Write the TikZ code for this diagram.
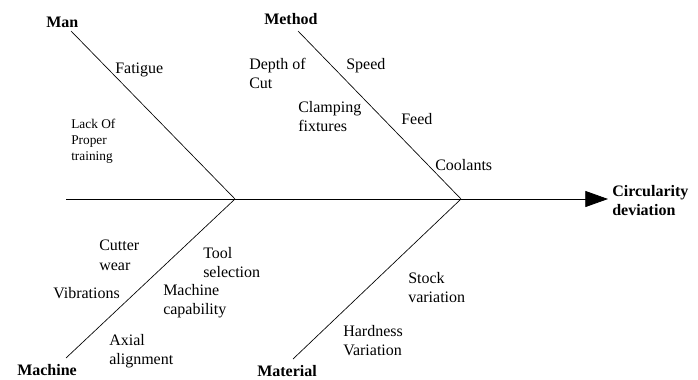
\documentclass[tikz,border=0pt]{standalone}
\usepackage{fontspec}
\setmainfont{Liberation Serif}
\usetikzlibrary{arrows.meta}

\tikzset{
  bone/.style={black,line width=0.5pt},
  cause/.style={font=\fontsize{12}{14.4}\selectfont,inner sep=0,anchor=north west,align=left},
  group/.style={font=\fontsize{12}{14.4}\selectfont\bfseries,inner sep=0,anchor=north west,align=left}
}

\begin{document}
\begin{tikzpicture}[x=0.75pt,y=-0.75pt]
  \useasboundingbox (0,0) rectangle (698,379);

  % spine and head
  \coordinate (tail) at (66,199);
  \coordinate (joinA) at (235,199);
  \coordinate (joinB) at (461,199);
  \coordinate (tip) at (608,199);
  \node[group] (effect) at (612,185) {Circularity\\deviation};
  \draw[black,line width=0.6pt,-{Triangle[length=17pt,width=12pt]}] (tail) -- (tip);

  % bones
  \coordinate (manend) at (71,31);
  \coordinate (methodend) at (298,31);
  \coordinate (machineend) at (66,358);
  \coordinate (materialend) at (293,359);
  \draw[bone] (manend) -- (joinA);
  \draw[bone] (machineend) -- (joinA);
  \draw[bone] (methodend) -- (joinB);
  \draw[bone] (materialend) -- (joinB);

  % group labels
  \foreach \n/\x/\y/\t in {man/46/17/Man,method/264/13/Method,machine/17/364/Machine,material/257/365/Material}
    \node[group] (\n) at (\x,\y) {\t};

  % causes
  \foreach \n/\x/\y/\t in {fatigue/115/63/Fatigue,depth/249/58/{Depth of\\Cut},speed/346/58/Speed,
      clamp/298/101/{Clamping\\fixtures},feed/401/113/Feed,cool/435/159/Coolants,
      cutter/99/240/{Cutter\\wear},vib/53/287/Vibrations,tool/203/247/{Tool\\selection},
      capab/163/284/{Machine\\capability},axial/109/334/{Axial\\alignment},
      stock/408/272/{Stock\\variation},hard/343/325/{Hardness\\Variation}}
    \node[cause] (\n) at (\x,\y) {\t};
  \node[cause,font=\fontsize{10}{12}\selectfont] (train) at (71,119) {Lack Of\\Proper\\training};
\end{tikzpicture}
\end{document}
